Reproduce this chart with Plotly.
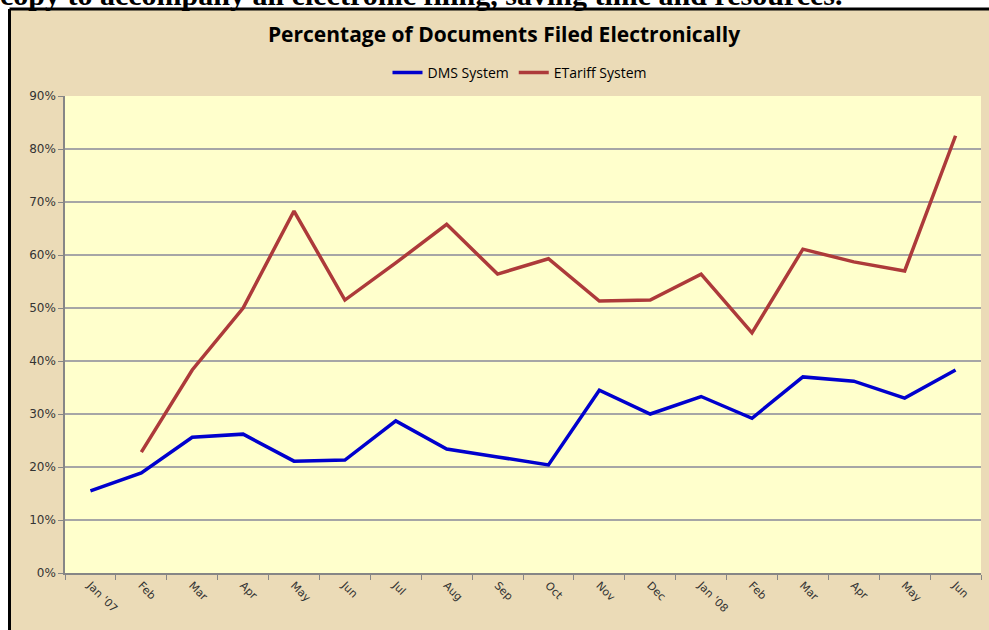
import plotly.graph_objects as go

months = ["Jan '07", "Feb", "Mar", "Apr", "May", "Jun", "Jul", "Aug", "Sep", "Oct",
          "Nov", "Dec", "Jan '08", "Feb ", "Mar ", "Apr ", "May ", "Jun "]
dms = [15.5, 18.9, 25.6, 26.2, 21.1, 21.3, 28.7, 23.4, 21.9, 20.4,
       34.5, 30.0, 33.3, 29.2, 37.0, 36.2, 33.0, 38.3]
etariff = [None, 22.8, 38.3, 50.0, 68.3, 51.5, 58.5, 65.8, 56.4, 59.3,
           51.3, 51.5, 56.4, 45.3, 61.1, 58.7, 57.0, 82.5]
yticks = [0, 10, 20, 30, 40, 50, 60, 70, 80, 90]
ytick_text = [f"{v}%" for v in yticks]

W, H = 989, 630
L, R, T, B = 65, 8, 96, 57
pw, ph = W - L - R, H - T - B

def px(x):
    return (x - L) / pw

def py(y):
    return (H - B - y) / ph

fig = go.Figure()
fig.add_trace(go.Scatter(x=months, y=dms, mode="lines", name="DMS System",
                         line=dict(color="#0000CD", width=3.5)))
fig.add_trace(go.Scatter(x=months, y=etariff, mode="lines", name="ETariff System",
                         line=dict(color="#AD3A3A", width=3.5)))

shapes = [
    dict(type="rect", xref="paper", yref="paper", x0=px(-5), x1=px(1000), y0=py(9), y1=py(-5),
         fillcolor="white", line=dict(width=0), layer="below"),
    dict(type="rect", xref="paper", yref="paper", x0=px(-5), x1=px(9), y0=py(640), y1=py(-5),
         fillcolor="white", line=dict(width=0), layer="below"),
    dict(type="line", xref="paper", yref="paper", x0=px(9.5), x1=px(1000), y0=py(9), y1=py(9),
         line=dict(color="black", width=3)),
    dict(type="line", xref="paper", yref="paper", x0=px(9.5), x1=px(9.5), y0=py(9), y1=py(640),
         line=dict(color="black", width=3)),
]

fig.update_layout(
    width=W, height=H,
    margin=dict(l=L, r=R, t=T, b=B),
    paper_bgcolor="#EBDBB7",
    plot_bgcolor="#FFFFCC",
    title=dict(text="<b>Percentage of Documents Filed Electronically</b>",
               x=504 / W, xref="container", xanchor="center",
               y=1 - 35 / H, yref="container", yanchor="middle",
               font=dict(family="Open Sans", size=21, color="black")),
    legend=dict(orientation="h", x=px(520), xanchor="center", y=py(73), yanchor="middle",
                bgcolor="rgba(0,0,0,0)", font=dict(family="Open Sans", size=14, color="black"),
                itemwidth=30),
    shapes=shapes,
    annotations=[dict(text="<b>copy to accompany all electronic filing, saving time and resources.</b>",
                      xref="paper", yref="paper", x=px(-2), y=py(13), xanchor="left",
                      yanchor="bottom", showarrow=False,
                      font=dict(family="Liberation Serif", size=30, color="black"))],
    xaxis=dict(type="category", tickangle=45, tickson="boundaries", ticks="outside",
               ticklen=5, tickcolor="#868686", showgrid=False, showline=True,
               linecolor="#868686", linewidth=1.5,
               tickfont=dict(family="DejaVu Sans", size=11, color="#333333"),
               range=[-0.5, 17.5]),
    yaxis=dict(range=[0, 90], tickvals=yticks, ticktext=ytick_text, ticks="outside",
               ticklen=5, tickcolor="#868686", showgrid=True, gridcolor="#A6A6A6",
               gridwidth=1.5, showline=True, linecolor="#868686", linewidth=1.5,
               zeroline=False,
               tickfont=dict(family="DejaVu Sans", size=12, color="#333333")),
    showlegend=True,
)

fig.write_html("out.html", config={"displayModeBar": False},
               post_script="document.body.style.margin='0';")
